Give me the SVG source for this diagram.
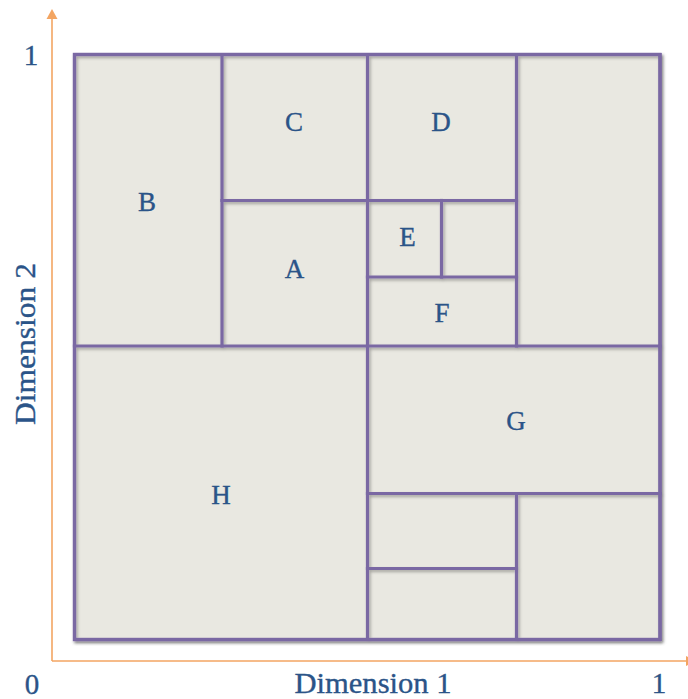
<svg xmlns="http://www.w3.org/2000/svg" width="688" height="699" viewBox="0 0 688 699">
  <defs>
    <filter id="sh" x="-5%" y="-5%" width="110%" height="110%">
      <feDropShadow dx="1.5" dy="2" stdDeviation="1.5" flood-color="#000" flood-opacity="0.3"/>
    </filter>
  </defs>
  <style>
    .ax { stroke: #f3a562; stroke-width: 1.6; fill: none; }
    .ah { fill: #f3a562; }
    .ln { stroke: #7a68a3; stroke-width: 3.2; fill: none; stroke-linecap: square; }
    .bg { fill: #e9e8e1; stroke: #7a68a3; stroke-width: 3.2; }
    .lb { font-family: "Liberation Serif", "DejaVu Serif", serif; font-size: 27px; fill: #2b5488; stroke: #2b5488; stroke-width: 0.35; text-anchor: middle; }
    .at { font-family: "Liberation Serif", "DejaVu Serif", serif; font-size: 29px; fill: #2b5488; stroke: #2b5488; stroke-width: 0.35; text-anchor: middle; }
  </style>
  <rect width="688" height="699" fill="#ffffff"/>
  <g id="axes">
    <line class="ax" x1="52" y1="16" x2="52" y2="661"/>
    <line class="ax" x1="52" y1="661" x2="688" y2="661"/>
    <polygon class="ah" points="52,9 46.5,19 57.5,19"/>
    <polygon class="ah" points="695,661 686,656 686,666"/>
    <text class="at" x="31" y="65">1</text>
    <text class="at" x="32" y="694">0</text>
    <text class="at" x="659" y="693">1</text>
    <text class="at" x="373" y="693" textLength="157" lengthAdjust="spacingAndGlyphs">Dimension 1</text>
    <text class="at" x="35" y="344" transform="rotate(-90 35 344)" textLength="162" lengthAdjust="spacingAndGlyphs">Dimension 2</text>
  </g>
  <g id="grid" filter="url(#sh)">
    <rect class="bg" x="74.5" y="54.5" width="585.5" height="585"/>
  </g>
  <g id="connectors" filter="url(#sh)">
    <line class="ln" x1="222" y1="54.5" x2="222" y2="346"/>
    <line class="ln" x1="367.5" y1="54.5" x2="367.5" y2="639.5"/>
    <line class="ln" x1="516.5" y1="54.5" x2="516.5" y2="346"/>
    <line class="ln" x1="516.5" y1="493.5" x2="516.5" y2="639.5"/>
    <line class="ln" x1="441.5" y1="200.5" x2="441.5" y2="277"/>
    <line class="ln" x1="74.5" y1="346" x2="660" y2="346"/>
    <line class="ln" x1="222" y1="200.5" x2="516.5" y2="200.5"/>
    <line class="ln" x1="367.5" y1="277" x2="516.5" y2="277"/>
    <line class="ln" x1="367.5" y1="493.5" x2="660" y2="493.5"/>
    <line class="ln" x1="367.5" y1="568.5" x2="516.5" y2="568.5"/>
    <rect x="74.5" y="54.5" width="585.5" height="585" fill="none" stroke="#7a68a3" stroke-width="3.2"/>
  </g>
  <g id="node-A"><text class="lb" x="294.5" y="278">A</text></g>
  <g id="node-B"><text class="lb" x="147" y="211">B</text></g>
  <g id="node-C"><text class="lb" x="294" y="131">C</text></g>
  <g id="node-D"><text class="lb" x="441" y="131">D</text></g>
  <g id="node-E"><text class="lb" x="407.5" y="245.5">E</text></g>
  <g id="node-F"><text class="lb" x="442" y="321.5">F</text></g>
  <g id="node-G"><text class="lb" x="516" y="430">G</text></g>
  <g id="node-H"><text class="lb" x="221" y="504">H</text></g>
</svg>
